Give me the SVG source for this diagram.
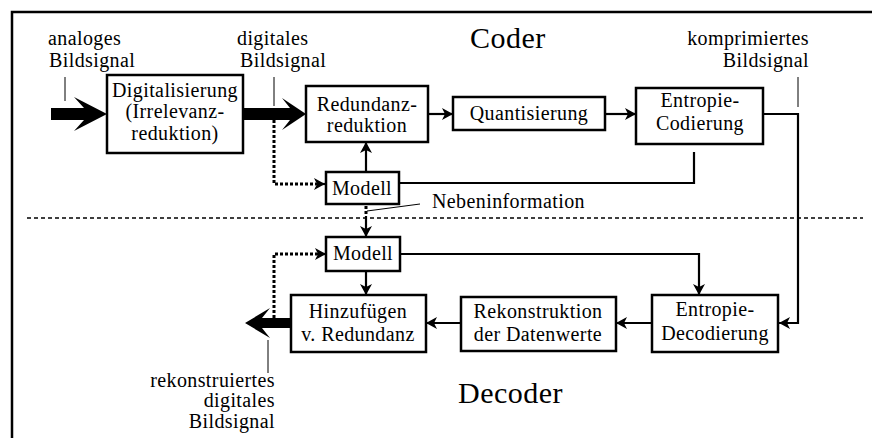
<svg xmlns="http://www.w3.org/2000/svg" width="872" height="438" viewBox="0 0 872 438">
<style>
text{font-family:'Liberation Serif','DejaVu Serif',serif;font-size:20px;letter-spacing:0.4px;fill:#000}
.big{font-size:30px;letter-spacing:0.5px}
.c{text-anchor:middle}
.e{text-anchor:end}
.box{fill:#fff;stroke:#000;stroke-width:2.5}
.ln{fill:none;stroke:#000;stroke-width:2.2}
.dot{fill:none;stroke:#000;stroke-width:3;stroke-dasharray:3 2}
.lead{fill:none;stroke:#000;stroke-width:1}
.fat{fill:#000;stroke:none}
</style>
<defs>
<marker id="ah" markerUnits="userSpaceOnUse" markerWidth="12" markerHeight="12" refX="11" refY="6" orient="auto">
<path d="M0,0 L11,6 L0,12 L3,6 Z" fill="#000"/>
</marker>
</defs>
<rect width="872" height="438" fill="#fff"/>
<path d="M12 438 V12 H872" fill="none" stroke="#000" stroke-width="2.5"/>
<path d="M27 218 H863" fill="none" stroke="#000" stroke-width="1.5" stroke-dasharray="4 3"/>

<g id="labels">
<text x="48" y="45">analoges</text>
<text x="49" y="67">Bildsignal</text>
<text x="237" y="45">digitales</text>
<text x="240" y="67">Bildsignal</text>
<text class="e" x="809" y="45">komprimiertes</text>
<text class="e" x="809" y="67">Bildsignal</text>
<text class="big" x="470" y="48">Coder</text>
<text x="432" y="208">Nebeninformation</text>
<text class="e" x="275" y="387">rekonstruiertes</text>
<text class="e" x="275" y="407">digitales</text>
<text class="e" x="275" y="428">Bildsignal</text>
<text class="big" x="458" y="403">Decoder</text>
</g>

<g id="connectors">
<path class="lead" d="M65 77 V101"/>
<path class="lead" d="M274 77 V106"/>
<path class="lead" d="M798 77 V107"/>
<path class="lead" d="M367 211 L420 204"/>
<path class="lead" d="M268 340 V373"/>
<path class="fat" d="M51 108 H84 L74 97 L107 114 L74 131 L84 120 H51 Z"/>
<path class="fat" d="M243 108 H290 L282 98 L306 114 L282 130 L290 120 H243 Z"/>
<path class="dot" d="M274 120 V184 H316"/>
<path class="ln" d="M316 184 H325" marker-end="url(#ah)"/>
<path class="ln" d="M428 114 H453" marker-end="url(#ah)"/>
<path class="ln" d="M605 114 H636" marker-end="url(#ah)"/>
<path class="ln" d="M763 114 H798 V323 H779" marker-end="url(#ah)"/>
<path class="ln" d="M694 152 V183 H399"/>
<path class="ln" d="M366 172 V142" marker-end="url(#ah)"/>
<path class="dot" d="M366 206 V216"/>
<path class="ln" d="M366 216 V237" marker-end="url(#ah)"/>
<path class="dot" d="M274 318 V254 H317"/>
<path class="ln" d="M316 254 H326" marker-end="url(#ah)"/>
<path class="ln" d="M366 271 V295" marker-end="url(#ah)"/>
<path class="ln" d="M400 254 H699 V295" marker-end="url(#ah)"/>
<path class="ln" d="M461 323 H426" marker-end="url(#ah)"/>
<path class="ln" d="M652 323 H616" marker-end="url(#ah)"/>
<path class="fat" d="M291 318 H262 L270 308 L245 323 L270 338 L262 328 H291 Z"/>
</g>

<g id="digitalisierung">
<rect class="box" x="107" y="75" width="136" height="78"/>
<text class="c" x="175" y="97">Digitalisierung</text>
<text class="c" x="175" y="118">(Irrelevanz-</text>
<text class="c" x="175" y="140">reduktion)</text>
</g>
<g id="redundanzreduktion">
<rect class="box" x="306" y="86" width="122" height="56"/>
<text class="c" x="367" y="111">Redundanz-</text>
<text class="c" x="367" y="132">reduktion</text>
</g>
<g id="quantisierung">
<rect class="box" x="453" y="97" width="152" height="33"/>
<text class="c" x="529" y="120">Quantisierung</text>
</g>
<g id="entropie-codierung">
<rect class="box" x="636" y="88" width="127" height="56"/>
<text class="c" x="700" y="107">Entropie-</text>
<text class="c" x="700" y="130">Codierung</text>
</g>
<g id="modell-coder">
<rect class="box" x="326" y="172" width="73" height="32"/>
<text class="c" x="362" y="195">Modell</text>
</g>
<g id="modell-decoder">
<rect class="box" x="326" y="237" width="74" height="34"/>
<text class="c" x="363" y="260">Modell</text>
</g>
<g id="hinzufuegen">
<rect class="box" x="291" y="295" width="135" height="57"/>
<text class="c" x="358" y="318">Hinzufügen</text>
<text class="c" x="358" y="341">v. Redundanz</text>
</g>
<g id="rekonstruktion">
<rect class="box" x="461" y="297" width="155" height="54"/>
<text class="c" x="538" y="318">Rekonstruktion</text>
<text class="c" x="538" y="341">der Datenwerte</text>
</g>
<g id="entropie-decodierung">
<rect class="box" x="652" y="295" width="126" height="57"/>
<text class="c" x="715" y="316">Entropie-</text>
<text class="c" x="715" y="340">Decodierung</text>
</g>
</svg>
